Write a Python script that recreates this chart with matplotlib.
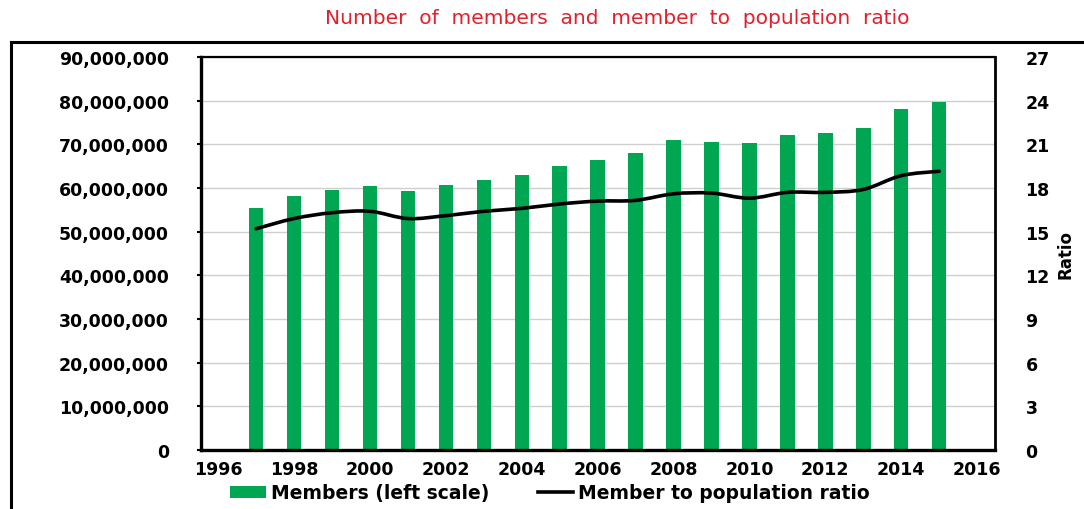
import matplotlib
matplotlib.use('Agg')
import matplotlib.pyplot as plt
from matplotlib.path import Path
from matplotlib.patches import PathPatch, Patch
from matplotlib.lines import Line2D

# ---- data ----
years = [1997, 1998, 1999, 2000, 2001, 2002, 2003, 2004, 2005, 2006,
         2007, 2008, 2009, 2010, 2011, 2012, 2013, 2014, 2015]
members = [55.4e6, 58.2e6, 59.6e6, 60.5e6, 59.3e6, 60.7e6, 61.8e6, 63.0e6, 65.0e6, 66.4e6,
           68.0e6, 71.0e6, 70.5e6, 70.3e6, 72.2e6, 72.6e6, 73.8e6, 78.0e6, 79.6e6]
ratio = [15.2, 15.9, 16.3, 16.4, 15.9, 16.1, 16.4, 16.6, 16.9, 17.1,
         17.15, 17.6, 17.65, 17.3, 17.7, 17.7, 17.9, 18.85, 19.15]
x_ticks = list(range(1996, 2017, 2))
left_ticks = list(range(0, 90_000_001, 10_000_000))
right_ticks = list(range(0, 28, 3))
title = "Number  of  members  and  member  to  population  ratio"
bar_label = "Members (left scale)"
line_label = "Member to population ratio"
right_label = "Ratio"

GREEN = '#00a651'
W, H = 1084, 510
fig = plt.figure(figsize=(W / 100, H / 100), dpi=100)
fig.patch.set_facecolor('white')

ax = fig.add_axes([201 / W, 1 - 451 / H, (995 - 201) / W, (451 - 58) / H])
ax.bar(years, members, width=0.38, color=GREEN, zorder=2)
ax.set_xlim(1995.55, 2016.47)
ax.set_ylim(0, 90e6)
ax.set_xticks(x_ticks)
ax.set_xticklabels([str(t) for t in x_ticks])
ax.set_yticks(left_ticks)
ax.set_yticklabels([f'{v:,}' for v in left_ticks])
ax.yaxis.grid(True, color='#cfcfcf', lw=1.0, zorder=0)
ax.set_axisbelow(True)
for s in ['left', 'bottom']:
    ax.spines[s].set_linewidth(2.4)
ax.spines['top'].set_linewidth(1.6)
ax.spines['right'].set_linewidth(2.0)
ax.tick_params(axis='y', length=3, width=1.5, pad=20, direction='out')
ax.tick_params(axis='x', length=0, pad=7)
for lab in ax.get_xticklabels() + ax.get_yticklabels():
    lab.set_fontweight('bold')
    lab.set_fontsize(12.5)
    lab.set_family('DejaVu Sans')

ax2 = ax.twinx()
ax2.set_ylim(0, 27)
ax2.set_xlim(1995.55, 2016.47)
ax2.set_yticks(right_ticks)
ax2.set_yticklabels([str(t) for t in right_ticks])
ax2.tick_params(axis='y', length=0, pad=22)
for lab in ax2.get_yticklabels():
    lab.set_fontweight('bold')
    lab.set_fontsize(12.5)
for s in ['left', 'top', 'bottom', 'right']:
    ax2.spines[s].set_visible(False)
ax2.set_ylabel(right_label, fontsize=12, fontweight='bold', labelpad=5)

# smooth (Excel-like) curve through the ratio points
pts = list(zip(years, ratio))
verts = [pts[0]]
codes = [Path.MOVETO]
n = len(pts)
for i in range(n - 1):
    p0 = pts[i - 1] if i > 0 else pts[i]
    p1 = pts[i]
    p2 = pts[i + 1]
    p3 = pts[i + 2] if i + 2 < n else pts[i + 1]
    c1 = (p1[0] + (p2[0] - p0[0]) / 6, p1[1] + (p2[1] - p0[1]) / 6)
    c2 = (p2[0] - (p3[0] - p1[0]) / 6, p2[1] - (p3[1] - p1[1]) / 6)
    verts += [c1, c2, p2]
    codes += [Path.CURVE4] * 3
ax2.add_patch(PathPatch(Path(verts, codes), fill=False, edgecolor='black',
                        lw=2.6, capstyle='round', joinstyle='round', zorder=3))

# legend
handles = [Patch(facecolor=GREEN, edgecolor='none'),
           Line2D([], [], color='black', lw=2.6)]
fig.legend(handles, [bar_label, line_label], loc='center', ncol=2,
           bbox_to_anchor=(550 / W, 1 - 494 / H), frameon=False,
           prop={'weight': 'bold', 'size': 13.5}, handlelength=1.9,
           handleheight=0.6, handletextpad=0.25, columnspacing=2.6)

# title
fig.text(617 / W, 1 - 18 / H, title, color='#e0202c', fontsize=14.5,
         ha='center', va='center')

# outer frame (left and top edges)
fig.add_artist(Line2D([11 / W, 11 / W], [0, 1 - 43 / H], color='black', lw=2.2,
                      transform=fig.transFigure))
fig.add_artist(Line2D([11 / W, 1.0], [1 - 43 / H, 1 - 43 / H], color='black', lw=2.2,
                      transform=fig.transFigure))

fig.savefig('out.png', dpi=100)
